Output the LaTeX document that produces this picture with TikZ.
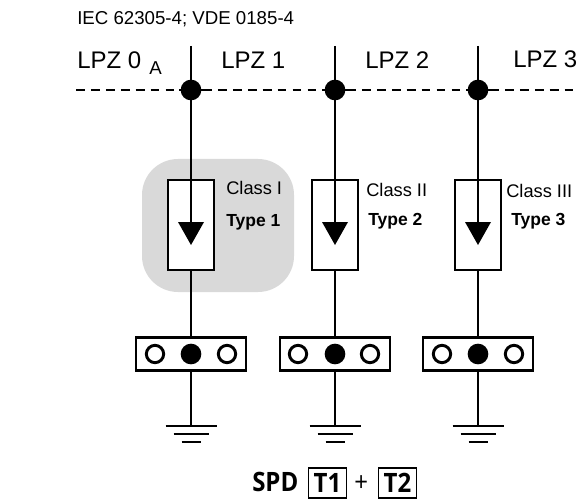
\documentclass[tikz,border=0pt]{standalone}
\usepackage{fontspec}
\setmainfont{Liberation Sans}
\newfontfamily\spdfont[FakeStretch=0.9]{Open Sans}
\tikzset{
  x=0.75pt,y=-0.75pt,
  wire/.style={line width=2.2pt,black},
  dashline/.style={line width=2.2pt,black,dash pattern=on 6.6pt off 4.6pt},
  junction/.style={circle,fill=black,draw=none,minimum size=15.5pt,inner sep=0pt},
  hollow/.style={circle,fill=white,draw=black,line width=2.2pt,minimum size=13pt,inner sep=0pt},
  spdbox/.style={rectangle,draw=black,fill=white,line width=2.1pt,minimum width=34.5pt,minimum height=67.5pt,inner sep=0pt},
  railbox/.style={rectangle,draw=black,fill=white,line width=2.1pt,minimum width=82.5pt,minimum height=25pt,inner sep=0pt},
  zone/.style={font=\fontsize{18}{20}\selectfont,anchor=base west,inner sep=0pt},
  classlbl/.style={font=\fontsize{13.7}{15}\selectfont,anchor=base west,inner sep=0pt},
  typelbl/.style={font=\fontsize{13.1}{15}\selectfont\bfseries,anchor=base west,inner sep=0pt},
  gbar/.style={line width=2.2pt,black},
  tbox/.style={rectangle,draw=black,line width=1.4pt,minimum width=28.5pt,minimum height=22pt,inner sep=0pt,font=\fontsize{20}{22}\selectfont\spdfont\bfseries},
  spdtxt/.style={font=\fontsize{20}{22}\selectfont\spdfont\bfseries,inner sep=0pt,anchor=base west},
}
\newcommand{\spdcolumn}[4]{%
  % #1 name, #2 x, #3 left hollow x, #4 right hollow x
  \coordinate (top#1) at (#2,46);
  \node[junction] (j#1) at (#2,90) {};
  \node[spdbox] (s#1) at (#2,225) {};
  \node[railbox] (r#1) at (#2,354) {};
  \coordinate (tip#1) at (#2,245);
  \coordinate (tl#1) at (#2-13,222);
  \coordinate (tr#1) at (#2+13,222);
  \coordinate (g#1) at (#2,426);
  \draw[wire] (top#1) -- (j#1.center) -- (#2,222);
  \fill[black] (tl#1) -- (tr#1) -- (tip#1) -- cycle;
  \draw[wire] (s#1.south) -- (r#1.north);
  \draw[wire] (r#1.south) -- (g#1);
  \node[junction] (m#1) at (r#1.center) {};
  \node[hollow] (h#1a) at (#3,354) {};
  \node[hollow] (h#1b) at (#4,354) {};
  \draw[gbar] (#2-25.5,426) -- (#2+25.5,426);
  \draw[gbar] (#2-17.5,434) -- (#2+17.5,434);
  \draw[gbar] (#2-9.5,442) -- (#2+9.5,442);
}
\begin{document}
\begin{tikzpicture}
\useasboundingbox (0,0) rectangle (579,503);
\fill[black!15] (142,159) [rounded corners=27pt] rectangle (294,292);
\spdcolumn{a}{191}{155}{227}
\spdcolumn{b}{335}{298}{370}
\spdcolumn{c}{478}{442}{514}
\coordinate (dl) at (76,90);
\coordinate (dr) at (579,90);
\draw[dashline] (dl) -- ([xshift=-9pt]ja.center);
\draw[wire] ([xshift=-9pt]ja.center) -- ([xshift=9pt]ja.center);
\draw[dashline] ([xshift=9pt]ja.center) -- ([xshift=-9pt]jb.center);
\draw[wire] ([xshift=-9pt]jb.center) -- ([xshift=9pt]jb.center);
\draw[dashline] ([xshift=9pt]jb.center) -- ([xshift=-9pt]jc.center);
\draw[wire] ([xshift=-9pt]jc.center) -- ([xshift=9pt]jc.center);
\draw[dashline] ([xshift=9pt]jc.center) -- (dr);
\node[font=\fontsize{14}{16}\selectfont,anchor=base west,inner sep=0pt] (std) at (77,25) {IEC 62305-4; VDE 0185-4};
\node[zone] (z0) at (77,69) {LPZ 0};
\node[zone,font=\fontsize{14}{16}\selectfont] (z0a) at (149,75) {A};
\node[zone] (z1) at (221,69) {LPZ 1};
\node[zone] (z2) at (365,69) {LPZ 2};
\node[zone] (z3) at (513,68) {LPZ 3};
\node[classlbl] (c1) at (226,195) {Class I};
\node[classlbl] (c2) at (366,196) {Class II};
\node[classlbl] (c3) at (506,198) {Class III};
\node[typelbl] (t1) at (226,226) {Type 1};
\node[typelbl] (t2) at (368,225) {Type 2};
\node[typelbl] (t3) at (511,225) {Type 3};
\node[spdtxt] (spd) at (252,491) {SPD};
\node[tbox] (bt1) at (327.5,483) {T1};
\node[spdtxt,font=\fontsize{20}{22}\selectfont\spdfont] (plus) at (354,491) {+};
\node[tbox] (bt2) at (397.5,483) {T2};
\end{tikzpicture}
\end{document}
